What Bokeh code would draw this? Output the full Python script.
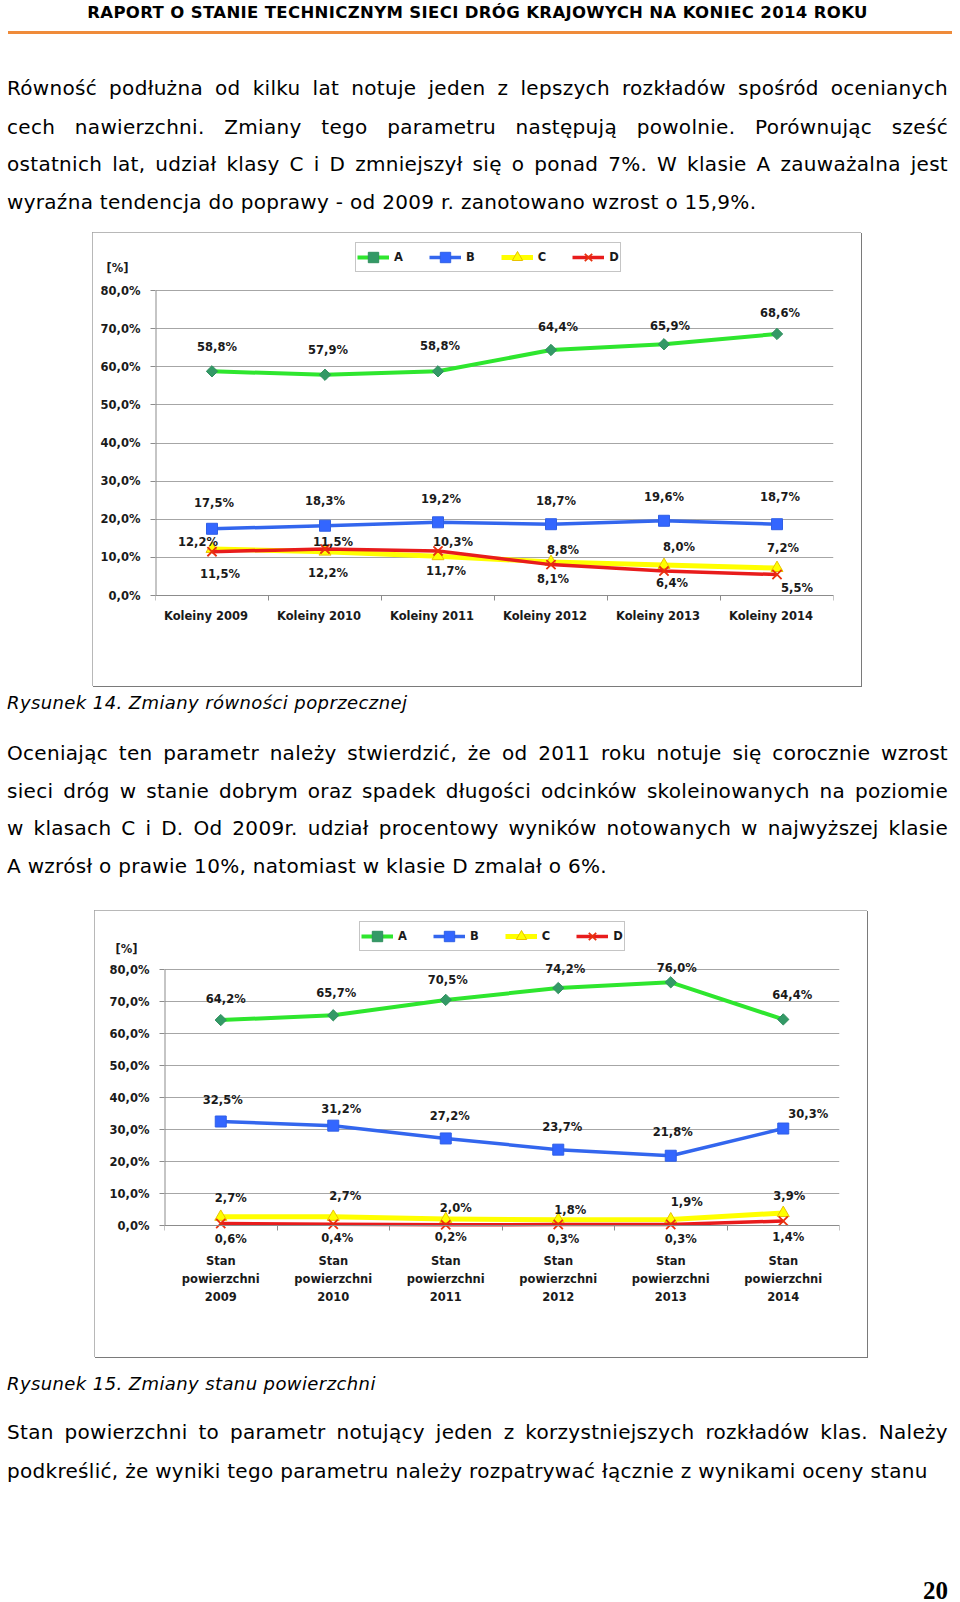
import numpy as np
from bokeh.plotting import figure
from bokeh.models import (Range1d, FixedTicker, Legend, LegendItem, Div,
                          Spacer, ColumnDataSource)
from bokeh.layouts import column, row
from bokeh.embed import file_html
from bokeh.resources import INLINE
from bokeh.core.properties import value

# ---------------------------------------------------------------- data
series_names = ["A", "B", "C", "D"]

koleiny_categories = ["Koleiny 2009", "Koleiny 2010", "Koleiny 2011",
                      "Koleiny 2012", "Koleiny 2013", "Koleiny 2014"]
koleiny_A = [58.8, 57.9, 58.8, 64.4, 65.9, 68.6]
koleiny_B = [17.5, 18.3, 19.2, 18.7, 19.6, 18.7]
koleiny_C = [12.2, 11.5, 10.3, 8.8, 8.0, 7.2]
koleiny_D = [11.5, 12.2, 11.7, 8.1, 6.4, 5.5]

stan_categories = ["Stan\npowierzchni\n2009", "Stan\npowierzchni\n2010",
                   "Stan\npowierzchni\n2011", "Stan\npowierzchni\n2012",
                   "Stan\npowierzchni\n2013", "Stan\npowierzchni\n2014"]
stan_A = [64.2, 65.7, 70.5, 74.2, 76.0, 64.4]
stan_B = [32.5, 31.2, 27.2, 23.7, 21.8, 30.3]
stan_C = [2.7, 2.7, 2.0, 1.8, 1.9, 3.9]
stan_D = [0.6, 0.4, 0.2, 0.3, 0.3, 1.4]

y_ticks = [0, 10, 20, 30, 40, 50, 60, 70, 80]
y_tick_labels = ["0,0%", "10,0%", "20,0%", "30,0%", "40,0%",
                 "50,0%", "60,0%", "70,0%", "80,0%"]
y_unit_label = "[%]"

# ------------------------------------------------ label offsets (pixels)
koleiny_label_dx = {"A": [5, 3, 2, 7, 6, 3], "B": [2, 0, 3, 5, 0, 3],
                    "C": [-14, 8, 15, 12, 15, 6], "D": [8, 3, 8, 2, 8, 20]}
koleiny_label_dy = {"A": [-24, -25, -25, -23, -18, -21], "B": [-26, -25, -23, -23, -24, -27],
                    "C": [-7, -10, -14, -12, -18, -20], "D": [22, 24, 20, 14, 12, 13]}
stan_label_dx = {"A": [5, 3, 2, 7, 6, 9], "B": [2, 8, 4, 4, 2, 25],
                 "C": [10, 12, 10, 12, 16, 6], "D": [10, 4, 5, 5, 10, 5]}
stan_label_dy = {"A": [-21, -22, -20, -19, -14, -24], "B": [-22, -17, -22, -23, -24, -15],
                 "C": [-19, -21, -11, -10, -17, -17], "D": [15, 14, 12, 14, 14, 16]}

# ---------------------------------------------------------------- styles
FONT = "DejaVu Sans"
TXT = "#1a1a1a"
GRID = "#a6a6a6"
AXIS = "#8c8c8c"
NBSP = "\u00a0"
SERIES_STYLE = {
    "A": dict(color="#2ee62e", lw=4, marker="square", angle=np.pi / 4, size=8,
              fill="#339966", mline="#2f8f5e", mlw=1),
    "B": dict(color="#3366ee", lw=3.5, marker="square", angle=0, size=11,
              fill="#3366ff", mline="#2f5fe6", mlw=1),
    "C": dict(color="#ffff00", lw=5, marker="triangle", angle=0, size=12,
              fill="#ffff00", mline="#e8c200", mlw=1),
    "D": dict(color="#e81c1c", lw=3.5, marker="x", angle=0, size=13,
              fill="#e81c1c", mline="#e8300e", mlw=1.8),
}


def pct(v):
    return f"{v:.1f}%".replace(".", ",")


def make_chart(cats, data, ldx, ldy, W, H, b_left, b_right, b_top, b_bottom,
               y0_px, y80_px, cat_dx, cat_dy, cat_lh, unit_up_px, legend_xy):
    n = len(cats)
    ppu = (y0_px - y80_px) / 80.0
    frame_top = b_top
    frame_bottom = H - b_bottom
    y_start = -(frame_bottom - y0_px) / ppu
    y_end = (y0_px - frame_top) / ppu
    p = figure(width=W, height=H, x_range=Range1d(0, n), y_range=Range1d(y_start, y_end),
               toolbar_location=None, output_backend="svg",
               min_border_left=b_left, min_border_right=b_right,
               min_border_top=b_top, min_border_bottom=b_bottom,
               background_fill_color="white", border_fill_color="white")
    p.outline_line_color = None
    p.styles = {"outline": "1px solid #a0a0a0", "outline-offset": "-1px",
                "box-shadow": "1px 1px 0px 0px #7a7a7a"}

    # value-axis line (from the lowest to the highest tick)
    p.segment(x0=[0], y0=[y_ticks[0]], x1=[0], y1=[y_ticks[-1]],
              line_color=AXIS, line_width=2)

    xs = [i + 0.5 for i in range(n)]
    rends = {}
    for name, vals in zip(series_names, data):
        st = SERIES_STYLE[name]
        lr = p.line(xs, vals, line_color=st["color"], line_width=st["lw"],
                    line_join="round")
        mr = p.scatter(xs, vals, marker=st["marker"], size=st["size"], angle=st["angle"],
                       fill_color=st["fill"], line_color=st["mline"],
                       line_width=st["mlw"])
        rends[name] = [lr, mr]

    for name, vals in zip(series_names, data):
        src = ColumnDataSource(dict(x=xs, y=vals, t=[pct(v) for v in vals],
                                    dx=ldx[name], dy=ldy[name]))
        p.text(x="x", y="y", text="t", x_offset="dx", y_offset="dy", source=src,
               text_font=value(FONT), text_font_style="bold", text_font_size="11.5px",
               text_align="center", text_baseline="middle", text_color=TXT)

    csrc = ColumnDataSource(dict(x=xs, y=[0] * n, t=cats))
    p.text(x="x", y="y", text="t", source=csrc, x_offset=cat_dx, y_offset=cat_dy,
           text_font=value(FONT), text_font_style="bold", text_font_size="11.5px",
           text_align="center", text_baseline="middle", text_color=TXT,
           text_line_height=cat_lh)

    # value axis: tick labels + the "[%]" unit caption as an extra labelled tick
    unit_y = round(y_ticks[-1] + unit_up_px / ppu, 2)
    yax = p.yaxis[0]
    yax.ticker = FixedTicker(ticks=y_ticks + [unit_y], minor_ticks=y_ticks)
    yax.bounds = (y_ticks[0], unit_y)
    overrides = {t: s for t, s in zip(y_ticks, y_tick_labels)}
    overrides[unit_y] = y_unit_label + NBSP * 3
    yax.major_label_overrides = overrides
    yax.axis_line_color = None
    yax.major_tick_line_color = None
    yax.major_tick_in = 0
    yax.major_tick_out = 0
    yax.minor_tick_line_color = AXIS
    yax.minor_tick_in = 0
    yax.minor_tick_out = 5
    yax.major_label_standoff = 10
    yax.major_label_text_font = FONT
    yax.major_label_text_font_style = "bold"
    yax.major_label_text_font_size = "11.5px"
    yax.major_label_text_color = TXT

    xax = p.xaxis[0]
    xax.fixed_location = 0
    xax.ticker = FixedTicker(ticks=[], minor_ticks=list(range(n + 1)))
    xax.axis_line_color = AXIS
    xax.major_tick_line_color = None
    xax.major_label_text_font_size = "0px"
    xax.minor_tick_in = 0
    xax.minor_tick_out = 5
    xax.minor_tick_line_color = AXIS

    p.ygrid.ticker = FixedTicker(ticks=y_ticks, minor_ticks=[])
    p.ygrid.grid_line_color = GRID
    p.xgrid.grid_line_color = None

    legend = Legend(items=[LegendItem(label=nm, renderers=rends[nm]) for nm in series_names],
                    orientation="horizontal", location=legend_xy,
                    glyph_width=32, glyph_height=26, label_width=0, label_height=20,
                    label_standoff=5, spacing=26, padding=1, margin=0,
                    border_line_color=AXIS, background_fill_color="white",
                    label_text_font=FONT, label_text_font_style="bold",
                    label_text_font_size="11.5px", label_text_color=TXT)
    p.add_layout(legend)
    return p


# chart 1 : box page (92,232) 769x454
chart1 = make_chart(koleiny_categories, [koleiny_A, koleiny_B, koleiny_C, koleiny_D],
                    koleiny_label_dx, koleiny_label_dy,
                    W=769, H=454, b_left=63, b_right=28, b_top=2, b_bottom=46,
                    y0_px=363, y80_px=58, cat_dx=-6, cat_dy=20, cat_lh=1.2,
                    unit_up_px=23, legend_xy=(200, 368))

# chart 2 : box page (94,910) 773x447
chart2 = make_chart(stan_categories, [stan_A, stan_B, stan_C, stan_D],
                    stan_label_dx, stan_label_dy,
                    W=773, H=447, b_left=70, b_right=28, b_top=2, b_bottom=27,
                    y0_px=315, y80_px=59, cat_dx=0, cat_dy=53.5, cat_lh=1.28,
                    unit_up_px=21, legend_xy=(195, 379))

# ---------------------------------------------------------------- text blocks
header = "RAPORT O STANIE TECHNICZNYM SIECI DRÓG KRAJOWYCH NA KONIEC 2014 ROKU"
para1 = ["Równość podłużna od kilku lat notuje jeden z lepszych rozkładów spośród ocenianych",
         "cech nawierzchni. Zmiany tego parametru następują powolnie. Porównując sześć",
         "ostatnich lat, udział klasy C i D zmniejszył się o ponad 7%. W klasie A zauważalna jest",
         "wyraźna tendencja do poprawy - od 2009 r. zanotowano wzrost o 15,9%."]
caption1 = "Rysunek 14. Zmiany równości poprzecznej"
para2 = ["Oceniając ten parametr należy stwierdzić, że od 2011 roku notuje się corocznie wzrost",
         "sieci dróg w stanie dobrym oraz spadek długości odcinków skoleinowanych na poziomie",
         "w klasach C i D. Od 2009r. udział procentowy wyników notowanych w najwyższej klasie",
         "A wzrósł o prawie 10%, natomiast w klasie D zmalał o 6%."]
caption2 = "Rysunek 15. Zmiany stanu powierzchni"
para3 = ["Stan powierzchni to parametr notujący jeden z korzystniejszych rozkładów klas. Należy",
         "podkreślić, że wyniki tego parametru należy rozpatrywać łącznie z wynikami oceny stanu"]
page_number = "20"

PAGE_W = 960


def html_line(text, top, size=20.0, ls=0.3, lh=24, italic=False, bold=False,
              align="justify", family="DejaVu Sans", left=7, width=941):
    return (f'<div style="position:absolute;left:{left}px;top:{top}px;width:{width}px;'
            f'height:{lh}px;line-height:{lh}px;font-family:{family};font-size:{size}px;'
            f'letter-spacing:{ls}px;font-style:{"italic" if italic else "normal"};'
            f'font-weight:{"bold" if bold else "normal"};color:#000;margin:0;padding:0;'
            f'text-align:{align};text-align-last:{align}">{text}</div>')


def block(inner, h):
    return (f'<div style="position:relative;width:{PAGE_W}px;height:{h}px;margin:0;padding:0">'
            + "".join(inner) + '</div>')


def para_lines(lines, tops):
    out = []
    for i, (t, tp) in enumerate(zip(lines, tops)):
        out.append(html_line(t, tp, align="justify" if i < len(lines) - 1 else "left"))
    return out


def text_div(inner, h):
    return Div(text=block(inner, h), width=PAGE_W, height=h, margin=(0, 0, 0, 0))


top_inner = [html_line(header, 3, size=16.5, ls=0.35, lh=20, bold=True, align="center",
                       left=0, width=955),
             '<div style="position:absolute;left:8px;top:31px;width:944px;height:3px;'
             'background:#ef8b3a"></div>']
top_inner += para_lines(para1, [75.8, 114.6, 152.4, 190.2])
div_top = text_div(top_inner, 232)

mid_inner = [html_line(caption1, 5.6, size=18, ls=0.4, lh=22, italic=True, align="left")]
mid_inner += para_lines(para2, [54.7, 92.5, 130.3, 168.1])
div_mid = text_div(mid_inner, 224)

bot_inner = [html_line(caption2, 15.8, size=18, ls=0.4, lh=22, italic=True, align="left")]
bot_inner += para_lines(para3, [62.8, 101.6])
bot_inner.append(html_line(page_number, 224.6, size=25, ls=0, lh=18, bold=True, align="right",
                           family="Liberation Serif", left=848, width=100))
div_bot = text_div(bot_inner, 245)

layout = column(
    div_top,
    row(Spacer(width=92, height=454), chart1),
    div_mid,
    row(Spacer(width=94, height=447), chart2),
    div_bot,
)

open("out.html", "w").write(file_html(layout, INLINE, title="Raport"))
